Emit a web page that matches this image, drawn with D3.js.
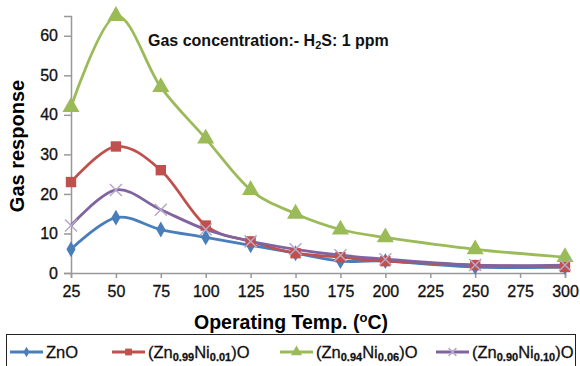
<!DOCTYPE html>
<html>
<head>
<meta charset="utf-8">
<script src="https://cdn.jsdelivr.net/npm/d3@7"></script>
<style>
  body { margin: 0; background: #fff; }
  svg { font-family: "Liberation Sans", Arial, sans-serif; }
</style>
</head>
<body>
<div id="chart"></div>
<script>
const temps = [25, 50, 75, 100, 125, 150, 175, 200, 250, 300];
const xTicks = [25, 50, 75, 100, 125, 150, 175, 200, 225, 250, 275, 300];
const yTicks = [0, 10, 20, 30, 40, 50, 60];
const znO = [6, 14, 11, 9, 7, 5, 3, 3, 1.5, 1.5];
const ni01 = [23, 32, 26, 12, 8, 5, 4, 3, 2, 1.5];
const ni06 = [42, 65, 47, 34, 21, 15, 11, 9, 6, 4];
const ni10 = [12, 21, 16, 11, 8, 6, 4.5, 3.5, 2, 2];

const width = 580, height = 366;
const margin = {top: 16, right: 15, bottom: 93, left: 71};

const series = [
  {name: ['ZnO'], values: znO, color: '#4a7ebb', marker: 'diamond'},
  {name: ['(Zn', '0.99', 'Ni', '0.01', ')O'], values: ni01, color: '#c0504d', marker: 'square'},
  {name: ['(Zn', '0.94', 'Ni', '0.06', ')O'], values: ni06, color: '#9bbb59', marker: 'triangle'},
  {name: ['(Zn', '0.90', 'Ni', '0.10', ')O'], values: ni10, color: '#8064a2', marker: 'x'}
];

const svg = d3.select('#chart').append('svg').attr('width', width).attr('height', height);

const x = d3.scaleLinear().domain([25, 300]).range([margin.left, width - margin.right]);
const y = d3.scaleLinear().domain([0, 65]).range([height - margin.bottom, margin.top]);

// axes
const xAxis = d3.axisBottom(x).tickValues(xTicks).tickSize(5).tickPadding(8);
const gx = svg.append('g')
  .attr('transform', 'translate(0,' + (height - margin.bottom) + ')')
  .call(xAxis);
gx.selectAll('text').attr('font-size', 16).attr('fill', '#111').attr('stroke', '#111').attr('stroke-width', 0.3);

const yAxis = d3.axisLeft(y).tickValues(yTicks).tickSize(7).tickPadding(6);
const gy = svg.append('g')
  .attr('transform', 'translate(' + margin.left + ',0)')
  .call(yAxis);
gy.selectAll('text').attr('font-size', 16).attr('fill', '#111').attr('stroke', '#111').attr('stroke-width', 0.3);

svg.selectAll('.domain, .tick line').attr('stroke', '#999').attr('stroke-width', 1.5);

// lines
const line = d3.line()
  .x((d, i) => x(temps[i]))
  .y(d => y(d))
  .curve(d3.curveCardinal.tension(0));

function drawMarker(g, type, color, size) {
  if (type === 'x') {
    const s = size / 2;
    g.append('path').attr('d', 'M' + -s + ',' + -s + 'L' + s + ',' + s + 'M' + -s + ',' + s + 'L' + s + ',' + -s)
      .attr('stroke', '#b8a8c8').attr('stroke-width', 1.5).attr('fill', 'none');
    return;
  }
  const sym = type === 'diamond' ? d3.symbolDiamond : type === 'square' ? d3.symbolSquare : d3.symbolTriangle;
  g.append('path').attr('d', d3.symbol(sym, size * size * (type === 'diamond' ? 0.6 : 0.75))())
    .attr('fill', color);
}

const sizes = {diamond: 11, square: 12, triangle: 13, x: 12};

series.forEach(s => {
  svg.append('path').datum(s.values)
    .attr('d', line)
    .attr('fill', 'none')
    .attr('stroke', s.color)
    .attr('stroke-width', 2.8);
});
series.forEach(s => {
  s.values.forEach((v, i) => {
    const g = svg.append('g').attr('transform', 'translate(' + x(temps[i]) + ',' + y(v) + ')');
    drawMarker(g, s.marker, s.color, sizes[s.marker]);
  });
});

// annotation
const ann = svg.append('text').attr('x', 148).attr('y', 46)
  .attr('font-size', 16).attr('font-weight', 'bold').attr('fill', '#111');
ann.append('tspan').text('Gas concentration:- H');
ann.append('tspan').text('2').attr('font-size', 11).attr('dy', 3);
ann.append('tspan').text('S: 1 ppm').attr('dy', -3);

// axis titles
svg.append('text').attr('x', 291).attr('y', 329)
  .attr('text-anchor', 'middle').attr('font-size', 19.5).attr('font-weight', 'bold')
  .html('Operating Temp. (<tspan font-size="13" dy="-7">o</tspan><tspan dy="7">C)</tspan>');

svg.append('text')
  .attr('transform', 'translate(24,146) rotate(-90)')
  .attr('text-anchor', 'middle').attr('font-size', 20).attr('font-weight', 'bold')
  .text('Gas response');

// legend
svg.append('rect').attr('x', 6.5).attr('y', 334.5).attr('width', 569).attr('height', 40)
  .attr('fill', 'none').attr('stroke', '#222').attr('stroke-width', 1);

const legendX = [10, 112, 280, 436];
series.forEach((s, i) => {
  const g = svg.append('g').attr('transform', 'translate(' + legendX[i] + ',352)');
  g.append('line').attr('x1', 0).attr('x2', 33).attr('stroke', s.color).attr('stroke-width', 2.8);
  const mg = g.append('g').attr('transform', 'translate(16.5,0)');
  drawMarker(mg, s.marker, s.color, sizes[s.marker] * 0.65);
  const t = g.append('text').attr('x', 36).attr('y', 6).attr('font-size', 16.5).attr('fill', '#111')
    .attr('stroke', '#111').attr('stroke-width', 0.3);
  s.name.forEach((part, j) => {
    const sub = j % 2 === 1;
    t.append('tspan').text(part)
      .attr('font-size', sub ? 11 : 16.5)
      .attr('font-weight', sub ? 'bold' : 'normal')
      .attr('dy', sub ? 3 : (j > 0 ? -3 : 0));
  });
});
</script>
</body>
</html>
